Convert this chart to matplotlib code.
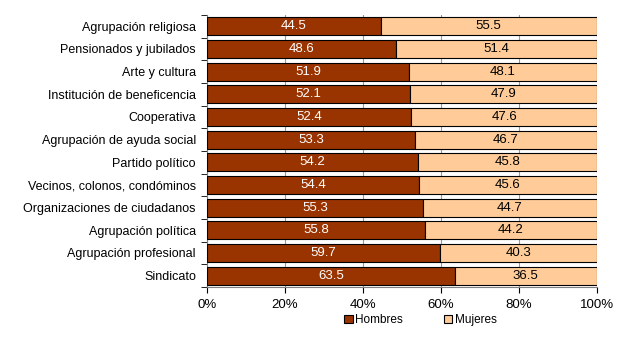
import matplotlib
matplotlib.use("Agg")
from matplotlib import pyplot as plt
import numpy as np

categorias = ['Agrupación religiosa', 'Pensionados y jubilados', 'Arte y cultura',
              'Institución de beneficencia', 'Cooperativa', 'Agrupación de ayuda social',
              'Partido político', 'Vecinos, colonos, condóminos', 'Organizaciones de ciudadanos',
              'Agrupación política', 'Agrupación profesional', 'Sindicato']
hombres = [44.5, 48.6, 51.9, 52.1, 52.4, 53.3, 54.2, 54.4, 55.3, 55.8, 59.7, 63.5]
mujeres = [55.5, 51.4, 48.1, 47.9, 47.6, 46.7, 45.8, 45.6, 44.7, 44.2, 40.3, 36.5]

plt.rcParams['font.family'] = ['Liberation Sans', 'DejaVu Sans']
plt.rcParams['hatch.linewidth'] = 0.5

fig = plt.figure(figsize=(6.37, 3.56), dpi=100)
ax = fig.add_axes([0.325, 0.194, 0.612, 0.764])

y = np.arange(len(categorias))
h = ax.barh(y, hombres, height=0.8, color='#993300', edgecolor='black', linewidth=0.8,
            label='Hombres', zorder=3)
m = ax.barh(y, mujeres, left=hombres, height=0.8, color='#FFCC99', edgecolor='black',
            linewidth=0.8, label='Mujeres', zorder=3)

for i in y:
    ax.text(hombres[i] / 2, i, f'{hombres[i]:.1f}', ha='center', va='center',
            color='white', fontsize=9.5, zorder=4)
    ax.text(hombres[i] + mujeres[i] / 2, i, f'{mujeres[i]:.1f}', ha='center',
            va='center', color='black', fontsize=9.5, zorder=4)

ax.set_xlim(0, 100)
ax.set_ylim(len(categorias) - 0.5, -0.5)
ax.set_xticks(np.arange(0, 101, 20))
ax.set_xticklabels([f'{v}%' for v in range(0, 101, 20)], fontsize=9.5)
ax.set_yticks(y)
ax.set_yticklabels(categorias, fontsize=9)
ax.tick_params(axis='y', length=0, pad=8)
ax.set_yticks(np.arange(-0.5, len(categorias), 1), minor=True)
ax.tick_params(axis='y', which='minor', length=4, direction='out')
ax.tick_params(axis='x', length=4, direction='out', pad=5)
ax.xaxis.grid(True, color='#999999', linewidth=0.8, zorder=0)
for s in ['top', 'right']:
    ax.spines[s].set_visible(False)
ax.spines['bottom'].set_color('#808080')
ax.spines['left'].set_color('#808080')

fig.legend(handles=[h, m], loc='center', bbox_to_anchor=(0.66, 0.1), ncol=2,
           frameon=False, fontsize=8.5, handlelength=0.7, handleheight=0.7,
           columnspacing=3.5, handletextpad=0.2)

fig.savefig('out.png', dpi=100)
